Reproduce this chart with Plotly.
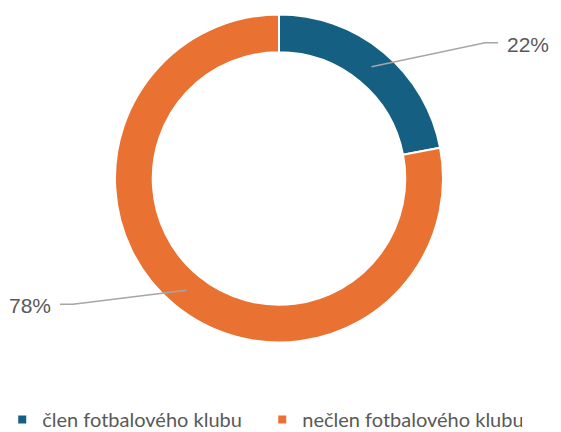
import math
import plotly.graph_objects as go

# ---- data ----
categories = ["člen fotbalového klubu", "nečlen fotbalového klubu"]
values = [22, 78]
label_texts = ["22%", "78%"]
colors = ["#156082", "#E97132"]

# ---- layout constants ----
W, H = 561, 432
CX, CY = 279, 178.5   # pie centre in px
R_OUT = 164
HOLE = 0.77
R_MID = R_OUT * (1 + HOLE) / 2

fig = go.Figure(go.Pie(
    labels=categories,
    values=values,
    sort=False,
    direction="clockwise",
    rotation=0,
    hole=HOLE,
    textinfo="none",
    hoverinfo="label+percent",
    showlegend=False,
    marker=dict(colors=colors, line=dict(color="white", width=2)),
    domain=dict(x=[(CX - R_OUT) / W, (CX + R_OUT) / W],
                y=[(H - (CY + R_OUT)) / H, (H - (CY - R_OUT)) / H]),
))

# legend entries (small square markers, no data drawn)
for name, col in zip(categories, colors):
    fig.add_trace(go.Scatter(x=[None], y=[None], mode="markers", name=name,
                             marker=dict(symbol="square", size=8, color=col),
                             showlegend=True, hoverinfo="skip"))

def px2paper(x, y):
    return x / W, (H - y) / H

shapes, annotations = [], []
total = sum(values)
cum = 0
for v, txt in zip(values, label_texts):
    mid = (cum + v / 2) / total * 360
    cum += v
    a = math.radians(mid)
    sx, sy = CX + R_MID * math.sin(a), CY - R_MID * math.cos(a)
    b = math.radians(mid + 18)
    ex, ey = CX + 244 * math.sin(b), CY - 5 - 244 * math.cos(b)
    side = 1 if ex > CX else -1
    hx = ex + side * 13
    p0 = px2paper(sx, sy); p1 = px2paper(ex, ey); p2 = px2paper(hx, ey)
    shapes.append(dict(type="path", xref="paper", yref="paper",
                       path=f"M{p0[0]},{p0[1]} L{p1[0]},{p1[1]} L{p2[0]},{p2[1]}",
                       line=dict(color="#A6A6A6", width=1.5)))
    tx, ty = px2paper(hx + side * 7, ey + 1.5)
    annotations.append(dict(x=tx, y=ty, xref="paper", yref="paper", text=txt,
                            showarrow=False,
                            xanchor="left" if side > 0 else "right", yanchor="middle",
                            font=dict(family="Liberation Sans, Arial", size=21, color="#595959")))

fig.update_layout(
    width=W, height=H,
    margin=dict(l=0, r=0, t=0, b=0, autoexpand=False),
    paper_bgcolor="white",
    plot_bgcolor="white",
    xaxis=dict(visible=False),
    yaxis=dict(visible=False),
    shapes=shapes,
    annotations=annotations,
    showlegend=True,
    legend=dict(orientation="h", x=0.004, xanchor="left", y=(H - 419.5) / H, yanchor="middle",
                font=dict(family="Lato, sans-serif", size=20, color="#595959"),
                itemwidth=30, entrywidth=215, tracegroupgap=0),
)

fig.write_html("out.html", config={"displayModeBar": False},
               post_script="document.body.style.margin='0';document.body.style.overflow='hidden';")
